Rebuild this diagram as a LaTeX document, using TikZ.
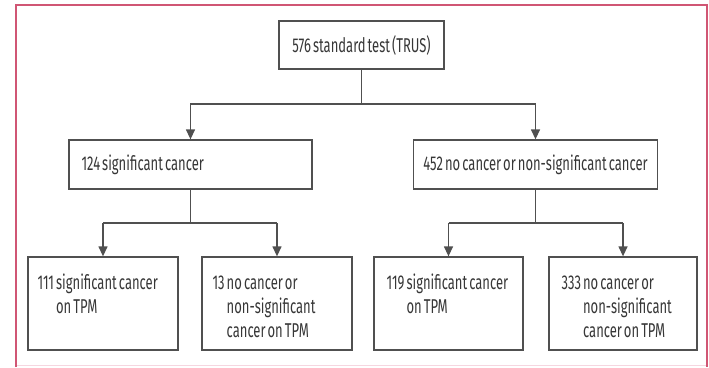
\documentclass[tikz,border=0pt]{standalone}
\usepackage{fontspec}
\setmainfont{Fira Sans}[FakeStretch=0.65,WordSpace=0.6]
\usetikzlibrary{arrows.meta}
\definecolor{frame}{RGB}{208,86,116}
\definecolor{framelight}{RGB}{246,214,224}
\definecolor{boxline}{RGB}{80,80,80}
\definecolor{txt}{RGB}{55,55,55}
\tikzset{
  box/.style={draw=boxline, line width=1.3pt, rectangle, inner sep=0pt},
  lbl/.style={inner sep=0pt, text=txt, font=\fontsize{20}{24}\selectfont, align=left},
  conn/.style={draw=boxline, line width=1.3pt},
  arr/.style={conn, -{Triangle[width=9pt,length=10pt]}},
}
\begin{document}
\begin{tikzpicture}[x=1pt,y=-1pt]
\useasboundingbox (0,0) rectangle (709,367);
% frame
\draw[framelight, line width=1.2pt] (16,365.5) -- (707,365.5);
\draw[frame, line width=2pt] (16,367) -- (16,5) -- (707,5) -- (707,367);
% boxes
\node[box, minimum width=165pt, minimum height=48pt] (top) at (361.5,45) {};
\node[lbl] (toptxt) at (top.center) {576 standard test (TRUS)};
\node[box, minimum width=243pt, minimum height=49pt] (sig) at (190.5,164.5) {};
\node[lbl, anchor=west] (sigtxt) at ([xshift=13pt]sig.west) {124 significant cancer};
\node[box, minimum width=244pt, minimum height=49pt] (non) at (535.5,164.5) {};
\node[lbl] (nontxt) at (non.center) {452 no cancer or non-significant cancer};
\node[box, minimum width=150pt, minimum height=93pt] (b1) at (103,303.5) {};
\node[box, minimum width=150pt, minimum height=93pt] (b2) at (277,303.5) {};
\node[box, minimum width=149pt, minimum height=93pt] (b3) at (448.5,303.5) {};
\node[box, minimum width=148pt, minimum height=93pt] (b4) at (623,303.5) {};
\node[lbl, anchor=north west] (t1) at ([xshift=10pt,yshift=-16pt]b1.north west)
  {\begin{tabular}{@{}l@{\ }l@{}}111&significant cancer\\ &on TPM\end{tabular}};
\node[lbl, anchor=north west] (t2) at ([xshift=11pt,yshift=-16pt]b2.north west)
  {\begin{tabular}{@{}l@{\ }l@{}}13&no cancer or\\ &non-significant\\ &cancer on TPM\end{tabular}};
\node[lbl, anchor=north west] (t3) at ([xshift=13pt,yshift=-16pt]b3.north west)
  {\begin{tabular}{@{}l@{\ }l@{}}119&significant cancer\\ &on TPM\end{tabular}};
\node[lbl, anchor=north west] (t4) at ([xshift=13pt,yshift=-16pt]b4.north west)
  {\begin{tabular}{@{}l@{\ }l@{}}333&no cancer or\\ &non-significant\\ &cancer on TPM\end{tabular}};
% junctions
\coordinate (j0) at (top.south |- 0,104);
\coordinate (j1) at (sig.south |- 0,223);
\coordinate (j2) at (non.south |- 0,223);
\coordinate (a1) at (b1.north |- j1);
\coordinate (a2) at (b2.north |- j1);
\coordinate (a3) at (b3.north |- j2);
\coordinate (a4) at (b4.north |- j2);
% connectors
\draw[conn] (top.south) -- (j0);
\draw[arr] (j0) -| (sig.north);
\draw[arr] (j0) -| (non.north);
\draw[conn] (sig.south) -- (j1);
\draw[conn] (a1) -- (a2);
\draw[arr] (a1) -- (b1.north);
\draw[arr] (a2) -- (b2.north);
\draw[conn] (non.south) -- (j2);
\draw[conn] (a3) -- (a4);
\draw[arr] (a3) -- (b3.north);
\draw[arr] (a4) -- (b4.north);
\end{tikzpicture}
\end{document}
